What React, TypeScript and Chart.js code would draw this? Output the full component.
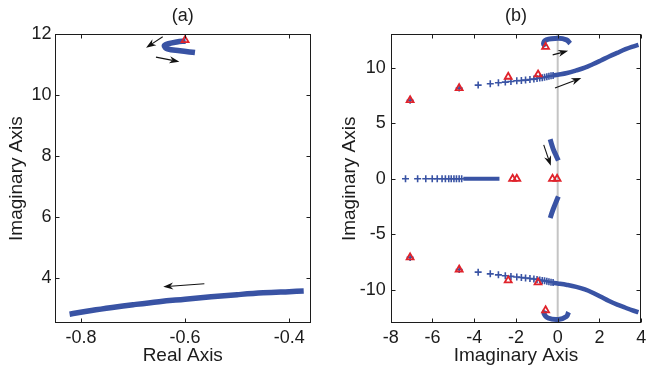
import { useEffect, useRef } from "react";
import { Chart, registerables } from "chart.js";

Chart.register(...registerables);

const FONT_FAMILY = "'Liberation Sans', Arial, Helvetica, sans-serif";
const INK = "#1c1c1c";
const LOCUS_BLUE = "#3953a4";
const POLE_RED = "#e0232b";
const ZERO_LINE = "#c4c4c4";

// ---------- Panel (a): close-up of two branches ----------
const aXTicks = [-0.8, -0.6, -0.4];
const aYTicks = [4, 6, 8, 10, 12];

const aUpperX = [-0.599, -0.616, -0.632, -0.640, -0.634, -0.610, -0.581];
const aUpperY = [11.77, 11.74, 11.68, 11.61, 11.51, 11.45, 11.39];

const aLowerX = [-0.822, -0.78, -0.74, -0.70, -0.65, -0.60, -0.55, -0.50, -0.45, -0.40, -0.372];
const aLowerY = [2.80, 2.92, 3.02, 3.11, 3.21, 3.29, 3.37, 3.44, 3.50, 3.54, 3.56];

const aPoleX = [-0.6];
const aPoleY = [11.8];

// direction arrows: [fromX, fromY, toX, toY]
const aArrows = [
  [-0.643, 11.91, -0.675, 11.55],
  [-0.656, 11.24, -0.611, 11.09],
  [-0.563, 3.80, -0.642, 3.70],
];

// ---------- Panel (b): full locus ----------
const bXTicks = [-8, -6, -4, -2, 0, 2, 4];
const bYTicks = [-10, -5, 0, 5, 10];

// sparse samples on the upper and lower arms
const bUpperPlusX = [-7.07, -4.72, -3.81, -3.23, -2.84, -2.51, -2.24, -1.96, -1.74, -1.54, -1.33, -1.14, -0.99, -0.86, -0.74, -0.63, -0.52, -0.42, -0.32, -0.22];
const bUpperPlusY = [7.07, 8.16, 8.43, 8.55, 8.64, 8.70, 8.76, 8.82, 8.85, 8.88, 8.94, 8.97, 9.02, 9.06, 9.10, 9.14, 9.18, 9.22, 9.26, 9.29];
const bLowerPlusX = [-7.07, -4.72, -3.81, -3.23, -2.84, -2.51, -2.24, -1.96, -1.74, -1.54, -1.33, -1.14, -0.99, -0.86, -0.74, -0.63, -0.52, -0.42, -0.32, -0.22];
const bLowerPlusY = [-7.07, -8.16, -8.40, -8.55, -8.64, -8.72, -8.78, -8.84, -8.88, -8.92, -8.97, -9.01, -9.06, -9.10, -9.14, -9.18, -9.22, -9.26, -9.30, -9.33];

// dense parts of the arms heading to the right
const bUpperArmX = [-0.25, 0, 0.45, 0.89, 1.3, 1.68, 2.07, 2.46, 2.85, 3.25, 3.55, 3.87];
const bUpperArmY = [9.28, 9.36, 9.52, 9.75, 10.0, 10.31, 10.65, 11.0, 11.33, 11.66, 11.87, 12.05];
const bLowerArmX = [-0.25, 0, 0.45, 0.89, 1.3, 1.68, 2.07, 2.46, 2.85, 3.25, 3.55, 3.87];
const bLowerArmY = [-9.36, -9.42, -9.55, -9.72, -9.95, -10.25, -10.62, -11.0, -11.32, -11.6, -11.82, -12.0];

// small loops near the top and bottom edges
const bTopLoopX = [-0.58, -0.68, -0.55, 0.03, 0.42, 0.6];
const bTopLoopY = [11.9, 12.15, 12.5, 12.65, 12.5, 12.17];
const bBottomLoopX = [-0.6, -0.66, -0.46, 0.03, 0.42, 0.52];
const bBottomLoopY = [-11.85, -12.1, -12.52, -12.65, -12.38, -11.99];

// branches approaching the real axis near the origin
const bCenterUpX = [-0.36, -0.28, -0.2, -0.08, 0.03];
const bCenterUpY = [3.56, 3.05, 2.6, 2.1, 1.64];
const bCenterDownX = [0.03, -0.06, -0.13, -0.25, -0.36];
const bCenterDownY = [-1.59, -2.0, -2.33, -2.9, -3.53];

// real-axis branch: sparse samples then a dense run
const bRealPlusX = [-7.29, -6.71, -6.32, -6.01, -5.77, -5.54, -5.38, -5.22, -5.10, -4.97, -4.85, -4.72, -4.60];
const bRealDenseX = [-4.52, -2.79];

// open-loop poles
const bPoleX = [-7.07, -4.72, -2.37, -0.94, -0.58, -7.07, -4.72, -2.37, -0.94, -0.58, -2.16, -1.96, -0.25, -0.03];
const bPoleY = [7.07, 8.16, 9.18, 9.39, 11.87, -7.07, -8.16, -9.14, -9.32, -11.83, 0, 0, 0, 0];

const bArrows = [
  [-0.24, 11.15, 0.5, 11.51],
  [-0.13, 8.16, 1.13, 9.06],
  [-0.67, 3.05, -0.33, 1.17],
];

const zip = (xs: number[], ys: number[]) => xs.map((x, i) => ({ x, y: ys[i] }));

function drawArrow(ctx: CanvasRenderingContext2D, x1: number, y1: number, x2: number, y2: number) {
  const dx = x2 - x1;
  const dy = y2 - y1;
  const len = Math.hypot(dx, dy) || 1;
  const ux = dx / len;
  const uy = dy / len;
  const nx = -uy;
  const ny = ux;
  const headLen = 10;
  const headHalf = 3.6;
  const notch = 7;
  ctx.beginPath();
  ctx.moveTo(x1, y1);
  ctx.lineTo(x2 - ux * notch, y2 - uy * notch);
  ctx.stroke();
  ctx.beginPath();
  ctx.moveTo(x2, y2);
  ctx.lineTo(x2 - ux * headLen + nx * headHalf, y2 - uy * headLen + ny * headHalf);
  ctx.lineTo(x2 - ux * notch, y2 - uy * notch);
  ctx.lineTo(x2 - ux * headLen - nx * headHalf, y2 - uy * headLen - ny * headHalf);
  ctx.closePath();
  ctx.fill();
}

function panelDecor(title: string, arrows: number[][]) {
  return {
    id: "panelDecor",
    afterDatasetsDraw(chart: any) {
      const { ctx, chartArea, scales } = chart;
      const { left, right, top, bottom } = chartArea;
      ctx.save();
      // arrows
      ctx.strokeStyle = "#111";
      ctx.fillStyle = "#111";
      ctx.lineWidth = 1.1;
      for (const [fx, fy, tx, ty] of arrows) {
        drawArrow(
          ctx,
          scales.x.getPixelForValue(fx),
          scales.y.getPixelForValue(fy),
          scales.x.getPixelForValue(tx),
          scales.y.getPixelForValue(ty)
        );
      }
      // frame with inward ticks on all four sides
      const L = Math.round(left) + 0.5;
      const R = Math.round(right) - 0.5;
      const T = Math.round(top) + 0.5;
      const B = Math.round(bottom) - 0.5;
      ctx.strokeStyle = INK;
      ctx.lineWidth = 1;
      ctx.strokeRect(L, T, R - L, B - T);
      const tick = 4;
      ctx.beginPath();
      for (const t of scales.x.ticks) {
        const px = Math.round(scales.x.getPixelForValue(t.value)) + 0.5;
        ctx.moveTo(px, B);
        ctx.lineTo(px, B - tick);
        ctx.moveTo(px, T);
        ctx.lineTo(px, T + tick);
      }
      for (const t of scales.y.ticks) {
        const py = Math.round(scales.y.getPixelForValue(t.value)) + 0.5;
        ctx.moveTo(L, py);
        ctx.lineTo(L + tick, py);
        ctx.moveTo(R, py);
        ctx.lineTo(R - tick, py);
      }
      ctx.stroke();
      // panel title centred over the plot box
      ctx.fillStyle = INK;
      ctx.font = `18px ${FONT_FAMILY}`;
      ctx.textAlign = "center";
      ctx.textBaseline = "middle";
      ctx.fillText(title, (left + right) / 2, 16);
      ctx.restore();
    },
  };
}

type PanelSpec = {
  width: number;
  height: number;
  xMin: number;
  xMax: number;
  yMin: number;
  yMax: number;
  xTicks: number[];
  yTicks: number[];
  xTitle: string;
  yTitle: string;
  title: string;
  arrows: number[][];
  yAxisWidth: number;
  xAxisHeight: number;
  padTop: number;
  padRight: number;
  yTickPad: number;
  yTitlePad: number;
  datasets: any[];
};

function buildConfig(p: PanelSpec): any {
  const tickFont = { family: FONT_FAMILY, size: 18 };
  const titleFont = { family: FONT_FAMILY, size: 19 };
  return {
    type: "scatter",
    data: { datasets: p.datasets },
    options: {
      animation: false,
      responsive: false,
      maintainAspectRatio: false,
      events: [],
      layout: { padding: { top: p.padTop, right: p.padRight, left: 0, bottom: 0 } },
      plugins: { legend: { display: false }, tooltip: { enabled: false }, title: { display: false } },
      scales: {
        x: {
          type: "linear",
          min: p.xMin,
          max: p.xMax,
          grid: { display: false, drawTicks: false },
          border: { display: false },
          afterBuildTicks: (s: any) => {
            s.ticks = p.xTicks.map((v) => ({ value: v }));
          },
          afterFit: (s: any) => {
            s.height = p.xAxisHeight;
            s.paddingLeft = 0;
            s.paddingRight = 0;
          },
          ticks: {
            font: tickFont,
            color: INK,
            padding: 4,
            maxRotation: 0,
            autoSkip: false,
            callback: (v: any) => String(v),
          },
          title: { display: true, text: p.xTitle, font: titleFont, color: INK, padding: { top: 0, bottom: 5 } },
        },
        y: {
          type: "linear",
          min: p.yMin,
          max: p.yMax,
          grid: { display: false, drawTicks: false },
          border: { display: false },
          afterBuildTicks: (s: any) => {
            s.ticks = p.yTicks.map((v) => ({ value: v }));
          },
          afterFit: (s: any) => {
            s.width = p.yAxisWidth;
            s.paddingTop = 0;
            s.paddingBottom = 0;
          },
          ticks: {
            font: tickFont,
            color: INK,
            padding: p.yTickPad,
            autoSkip: false,
            callback: (v: any) => String(v),
          },
          title: { display: true, text: p.yTitle, font: titleFont, color: INK, padding: { top: p.yTitlePad, bottom: 0 } },
        },
      },
    },
    plugins: [panelDecor(p.title, p.arrows)],
  };
}

const poleSet = (xs: number[], ys: number[]) => ({
  data: zip(xs, ys),
  showLine: false,
  pointStyle: "triangle",
  pointRadius: 4,
  pointBorderColor: POLE_RED,
  pointBackgroundColor: "rgba(255,255,255,0)",
  pointBorderWidth: 1.8,
});

const plusSet = (xs: number[], ys: number[]) => ({
  data: zip(xs, ys),
  showLine: false,
  pointStyle: "cross",
  pointRadius: 3.5,
  pointBorderColor: LOCUS_BLUE,
  pointBorderWidth: 1.6,
});

const bandSet = (xs: number[], ys: number[], width: number) => ({
  data: zip(xs, ys),
  showLine: true,
  tension: 0.4,
  borderColor: LOCUS_BLUE,
  borderWidth: width,
  borderCapStyle: "butt",
  pointRadius: 0,
});

const panelA: PanelSpec = {
  width: 320,
  height: 372,
  xMin: -0.851,
  xMax: -0.358,
  yMin: 2.5,
  yMax: 12,
  xTicks: aXTicks,
  yTicks: aYTicks,
  xTitle: "Real Axis",
  yTitle: "Imaginary Axis",
  title: "(a)",
  arrows: aArrows,
  yAxisWidth: 54.5,
  xAxisHeight: 48.7,
  padTop: 34,
  padRight: 9,
  yTickPad: 3,
  yTitlePad: 5.6,
  datasets: [
    poleSet(aPoleX, aPoleY),
    bandSet(aUpperX, aUpperY, 5.5),
    bandSet(aLowerX, aLowerY, 5.5),
  ],
};

const panelB: PanelSpec = {
  width: 327,
  height: 372,
  xMin: -8,
  xMax: 4,
  yMin: -13,
  yMax: 13,
  xTicks: bXTicks,
  yTicks: bYTicks,
  xTitle: "Imaginary Axis",
  yTitle: "Imaginary Axis",
  title: "(b)",
  arrows: bArrows,
  yAxisWidth: 70.7,
  xAxisHeight: 48.7,
  padTop: 34.3,
  padRight: 1.3,
  yTickPad: 5,
  yTitlePad: 18.6,
  datasets: [
    poleSet(bPoleX, bPoleY),
    plusSet(bUpperPlusX, bUpperPlusY),
    plusSet(bLowerPlusX, bLowerPlusY),
    plusSet(bRealPlusX, bRealPlusX.map(() => 0)),
    bandSet(bRealDenseX, bRealDenseX.map(() => 0), 4),
    bandSet(bUpperArmX, bUpperArmY, 4.5),
    bandSet(bLowerArmX, bLowerArmY, 4.5),
    bandSet(bTopLoopX, bTopLoopY, 5),
    bandSet(bBottomLoopX, bBottomLoopY, 5),
    bandSet(bCenterUpX, bCenterUpY, 5),
    bandSet(bCenterDownX, bCenterDownY, 5),
    {
      data: [
        { x: 0, y: -13 },
        { x: 0, y: 13 },
      ],
      showLine: true,
      borderColor: ZERO_LINE,
      borderWidth: 2,
      pointRadius: 0,
    },
  ],
};

function Panel({ spec, left }: { spec: PanelSpec; left: number }) {
  const ref = useRef<HTMLCanvasElement | null>(null);
  useEffect(() => {
    if (!ref.current) return;
    const chart = new Chart(ref.current, buildConfig(spec));
    return () => chart.destroy();
  }, [spec]);
  return (
    <canvas
      ref={ref}
      width={spec.width}
      height={spec.height}
      style={{ position: "absolute", left, top: 0, width: spec.width, height: spec.height }}
    />
  );
}

export default function App() {
  return (
    <div style={{ position: "fixed", left: 0, top: 0, width: 647, height: 372, background: "#ffffff", overflow: "hidden" }}>
      <Panel spec={panelA} left={0} />
      <Panel spec={panelB} left={320} />
    </div>
  );
}
